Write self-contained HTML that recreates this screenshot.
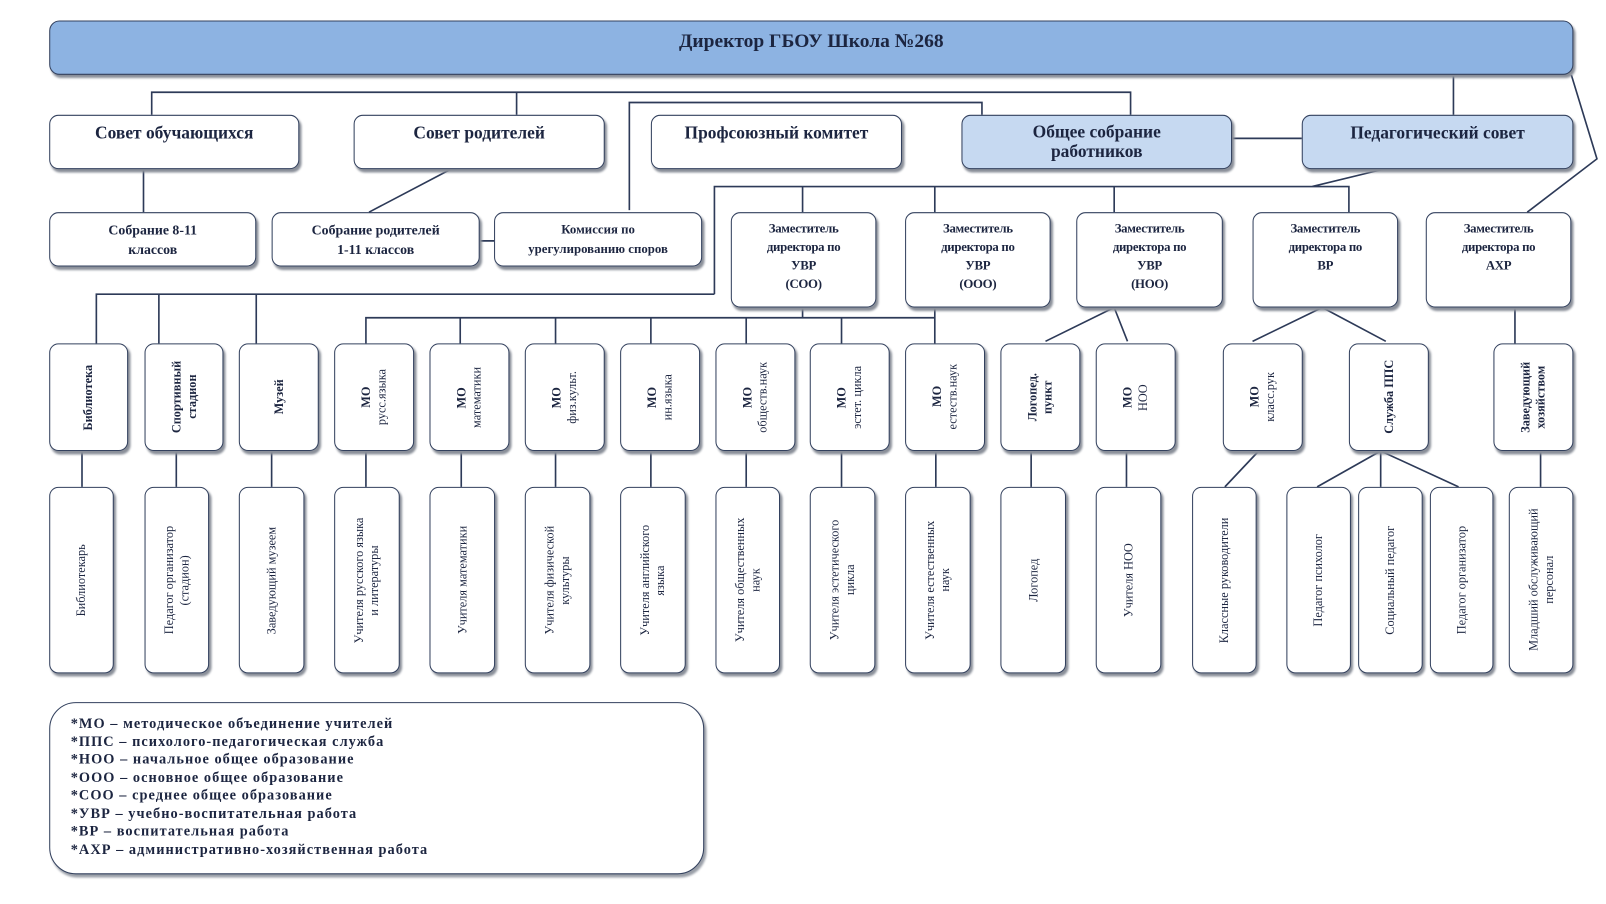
<!DOCTYPE html>
<html><head><meta charset="utf-8">
<style>
html,body{margin:0;padding:0;background:#fff;width:1606px;height:904px;overflow:hidden}
#c{position:absolute;left:0;top:0;width:1567px;height:882px;transform:scale(1.025);transform-origin:0 0;font-family:"Liberation Serif","DejaVu Serif",serif;color:#1c2540}
.b{position:absolute;box-sizing:border-box;border:1.6px solid #33415e;border-radius:9px;background:#fff;box-shadow:2px 3px 2px #8a8f99;display:flex;align-items:center;justify-content:center;text-align:center}
.t{font-weight:bold;font-size:17px;line-height:19px;align-items:flex-start;padding-top:7px}
.blue{background:#c6d9f1}
.s{font-weight:bold;font-size:13.5px;line-height:19px}
.z{font-weight:bold;font-size:12.5px;line-height:18px;align-items:flex-start;padding-top:6px;letter-spacing:-0.3px}
.v span{writing-mode:vertical-rl;transform:rotate(180deg);font-size:12px;line-height:15px;white-space:nowrap}
.r4 span{font-weight:bold}
.r4 i{font-style:normal;font-weight:normal}
svg{position:absolute;left:0;top:0}
</style></head><body><div id="c">
<svg width="1567" height="882" fill="none" stroke="#2d3a58" stroke-width="1.6">
<path d="M148 112V90H1103V112M504 90V112M1418 73V112"/>
<path d="M614 205V100H958V112"/>
<path d="M1533 73L1558 155L1490 207"/>
<path d="M1202 135H1270M140 165V207M440 165L360 207M468 235H482"/>
<path d="M1350 165L1280 182M697 287V182H1316V207M783 182V207M912 182V207M1087 182V207"/>
<path d="M697 287H94V335M155 287V335M250 287V335"/>
<path d="M783 300V310M912 300V310M357 335V310H912V335M449 310V335M542 310V335M635 310V335M728 310V335M821 310V335"/>
<path d="M1087 300L1020 333M1087 300L1100 333M1290 300L1222 333M1290 300L1352 333M1478 300V335"/>
<path d="M80 440V475M172 440V475M265 440V475M357 440V475M450 440V475M542 440V475M635 440V475M728 440V475M821 440V475M913 440V475M1006 440V475M1099 440V475M1503 440V475"/>
<path d="M1228 440L1195 475M1347 440L1285 475M1347 440V475M1347 440L1423 475"/>
</svg>
<div class="b" style="left:48px;top:20px;width:1487px;height:53px;background:#8db3e2;font-weight:bold;font-size:19px;align-items:flex-start;padding-top:9px;border-radius:10px">Директор ГБОУ Школа №268</div>

<div class="b t" style="left:48px;top:112px;width:244px;height:53px">Совет обучающихся</div>
<div class="b t" style="left:345px;top:112px;width:245px;height:53px">Совет родителей</div>
<div class="b t" style="left:635px;top:112px;width:245px;height:53px">Профсоюзный комитет</div>
<div class="b t blue" style="left:938px;top:112px;width:264px;height:53px;padding-top:6px">Общее собрание<br>работников</div>
<div class="b t blue" style="left:1270px;top:112px;width:265px;height:53px">Педагогический совет</div>

<div class="b s" style="left:48px;top:207px;width:202px;height:53px">Собрание 8-11<br>классов</div>
<div class="b s" style="left:265px;top:207px;width:203px;height:53px">Собрание родителей<br>1-11 классов</div>
<div class="b s" style="left:482px;top:207px;width:203px;height:53px;font-size:12.5px">Комиссия по<br>урегулированию споров</div>

<div class="b z" style="left:713px;top:207px;width:142px;height:93px">Заместитель<br>директора по<br>УВР<br>(СОО)</div>
<div class="b z" style="left:883px;top:207px;width:142px;height:93px">Заместитель<br>директора по<br>УВР<br>(ООО)</div>
<div class="b z" style="left:1050px;top:207px;width:143px;height:93px">Заместитель<br>директора по<br>УВР<br>(НОО)</div>
<div class="b z" style="left:1222px;top:207px;width:142px;height:93px">Заместитель<br>директора по<br>ВР</div>
<div class="b z" style="left:1391px;top:207px;width:142px;height:93px">Заместитель<br>директора по<br>АХР</div>

<div class="b v r4" style="left:48px;top:335px;width:77px;height:105px"><span>Библиотека</span></div>
<div class="b v r4" style="left:141px;top:335px;width:77px;height:105px"><span>Спортивный<br>стадион</span></div>
<div class="b v r4" style="left:233px;top:335px;width:78px;height:105px"><span>Музей</span></div>
<div class="b v r4" style="left:326px;top:335px;width:78px;height:105px"><span>МО<br><i>русс.языка</i></span></div>
<div class="b v r4" style="left:419px;top:335px;width:78px;height:105px"><span>МО<br><i>математики</i></span></div>
<div class="b v r4" style="left:512px;top:335px;width:78px;height:105px"><span>МО<br><i>физ.культ.</i></span></div>
<div class="b v r4" style="left:605px;top:335px;width:78px;height:105px"><span>МО<br><i>ин.языка</i></span></div>
<div class="b v r4" style="left:698px;top:335px;width:78px;height:105px"><span>МО<br><i>обществ.наук</i></span></div>
<div class="b v r4" style="left:790px;top:335px;width:78px;height:105px"><span>МО<br><i>эстет. цикла</i></span></div>
<div class="b v r4" style="left:883px;top:335px;width:78px;height:105px"><span>МО<br><i>естеств.наук</i></span></div>
<div class="b v r4" style="left:976px;top:335px;width:78px;height:105px"><span>Логопед.<br>пункт</span></div>
<div class="b v r4" style="left:1069px;top:335px;width:78px;height:105px"><span>МО<br><i>НОО</i></span></div>
<div class="b v r4" style="left:1193px;top:335px;width:78px;height:105px"><span>МО<br><i>класс.рук</i></span></div>
<div class="b v r4" style="left:1316px;top:335px;width:78px;height:105px"><span>Служба ППС</span></div>
<div class="b v r4" style="left:1457px;top:335px;width:78px;height:105px"><span>Заведующий<br>хозяйством</span></div>

<div class="b v" style="left:48px;top:475px;width:63px;height:182px"><span>Библиотекарь</span></div>
<div class="b v" style="left:141px;top:475px;width:63px;height:182px"><span>Педагог организатор<br>(стадион)</span></div>
<div class="b v" style="left:233px;top:475px;width:64px;height:182px"><span>Заведующий музеем</span></div>
<div class="b v" style="left:326px;top:475px;width:64px;height:182px"><span>Учителя русского языка<br>и литературы</span></div>
<div class="b v" style="left:419px;top:475px;width:64px;height:182px"><span>Учителя математики</span></div>
<div class="b v" style="left:512px;top:475px;width:64px;height:182px"><span>Учителя физической<br>культуры</span></div>
<div class="b v" style="left:605px;top:475px;width:64px;height:182px"><span>Учителя английского<br>языка</span></div>
<div class="b v" style="left:698px;top:475px;width:63px;height:182px"><span>Учителя общественных<br>наук</span></div>
<div class="b v" style="left:790px;top:475px;width:64px;height:182px"><span>Учителя эстетического<br>цикла</span></div>
<div class="b v" style="left:883px;top:475px;width:64px;height:182px"><span>Учителя естественных<br>наук</span></div>
<div class="b v" style="left:976px;top:475px;width:64px;height:182px"><span>Логопед</span></div>
<div class="b v" style="left:1069px;top:475px;width:64px;height:182px"><span>Учителя НОО</span></div>
<div class="b v" style="left:1163px;top:475px;width:63px;height:182px"><span>Классные руководители</span></div>
<div class="b v" style="left:1255px;top:475px;width:63px;height:182px"><span>Педагог психолог</span></div>
<div class="b v" style="left:1325px;top:475px;width:63px;height:182px"><span>Социальный педагог</span></div>
<div class="b v" style="left:1395px;top:475px;width:62px;height:182px"><span>Педагог организатор</span></div>
<div class="b v" style="left:1472px;top:475px;width:63px;height:182px"><span>Младший обслуживающий<br>персонал</span></div>

<div class="b" style="left:48px;top:685px;width:639px;height:168px;border-radius:26px;display:block;text-align:left;padding:12px 0 0 20px;font-size:14px;font-weight:bold;letter-spacing:1px;line-height:17.5px;box-shadow:2px 3px 2px #9a9fa8">
*МО – методическое объединение учителей<br>*ППС – психолого-педагогическая служба<br>*НОО – начальное общее образование<br>*ООО – основное общее образование<br>*СОО – среднее общее образование<br>*УВР – учебно-воспитательная работа<br>*ВР – воспитательная работа<br>*АХР – административно-хозяйственная работа</div>
</div></body></html>
